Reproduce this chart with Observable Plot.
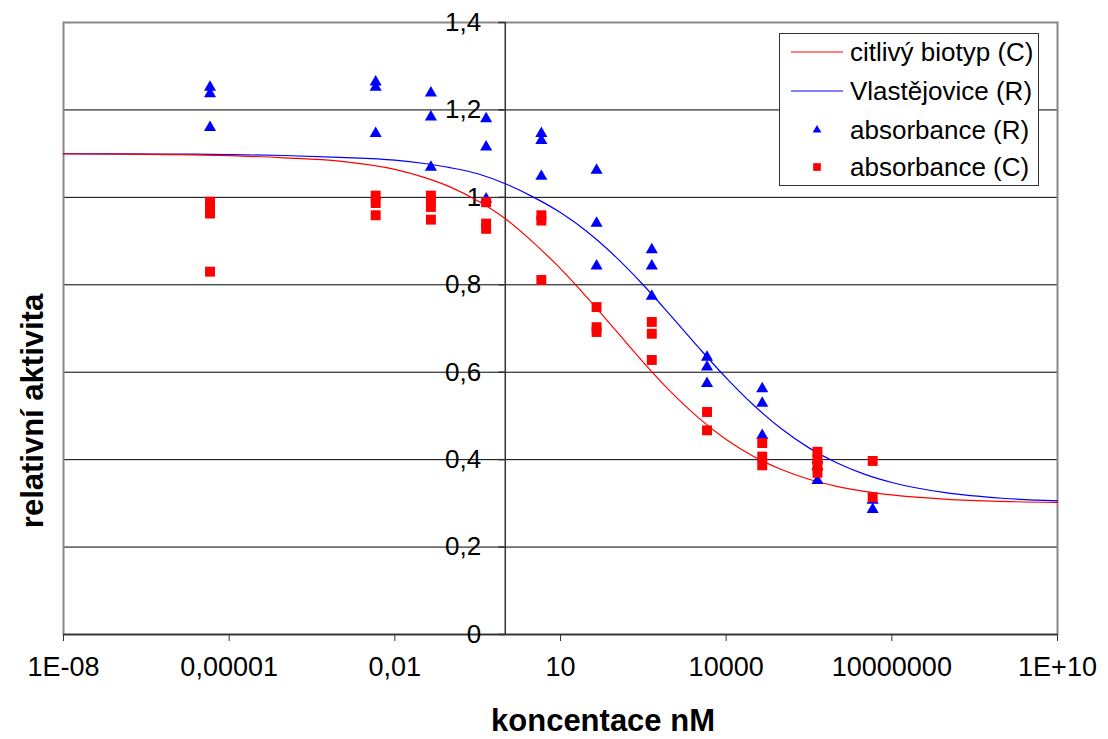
<!DOCTYPE html>
<html>
<head>
<meta charset="utf-8">
<script src="https://cdn.jsdelivr.net/npm/d3@7"></script>
<script src="https://cdn.jsdelivr.net/npm/@observablehq/plot@0.6"></script>
<style>
  html, body { margin: 0; padding: 0; background: white; }
  #wrap { position: relative; width: 1108px; height: 739px; font-family: "Liberation Sans", Arial, sans-serif; }
  #xtitle { position: absolute; left: 603px; top: 706px; transform: translateX(-50%); font-weight: bold; font-size: 31px; line-height: 30px; white-space: nowrap; }
  #legend { position: absolute; left: 779px; top: 33px; width: 258px; height: 151px; border: 1px solid #333; background: white; }
</style>
</head>
<body>
<div id="wrap"></div>
<script>
// ---- data ----
const xTicks = [1e-8, 1e-5, 1e-2, 10, 1e4, 1e7, 1e10];
const xTickLabels = ["1E-08", "0,00001", "0,01", "10", "10000", "10000000", "1E+10"];
const yTicks = [0, 0.2, 0.4, 0.6, 0.8, 1.0, 1.2, 1.4];
const yTickLabels = ["0", "0,2", "0,4", "0,6", "0,8", "1", "1,2", "1,4"];
const yAxisAt = [1];

// absorbance (R) – blue triangles
const concR = [
  4.5e-6, 4.5e-6, 4.5e-6,
  4.5e-3, 4.5e-3, 4.5e-3,
  4.5e-2, 4.5e-2, 4.5e-2,
  0.45, 0.45, 0.45,
  4.5, 4.5, 4.5,
  45, 45, 45,
  450, 450, 450,
  4500, 4500, 4500,
  45000, 45000, 45000,
  450000, 450000, 450000,
  4.5e6, 4.5e6
];
const absR = [
  1.252, 1.237, 1.160,
  1.264, 1.252, 1.146,
  1.239, 1.184, 1.069,
  1.180, 1.115, 0.996,
  1.146, 1.130, 1.048,
  1.062, 0.941, 0.843,
  0.880, 0.843, 0.774,
  0.634, 0.612, 0.574,
  0.562, 0.529, 0.455,
  0.400, 0.385, 0.352,
  0.307, 0.286
];

// absorbance (C) – red squares
const concC = [
  4.5e-6, 4.5e-6, 4.5e-6, 4.5e-6,
  4.5e-3, 4.5e-3, 4.5e-3,
  4.5e-2, 4.5e-2, 4.5e-2, 4.5e-2,
  0.45, 0.45, 0.45,
  4.5, 4.5, 4.5,
  45, 45, 45,
  450, 450, 450,
  4500, 4500,
  45000, 45000, 45000,
  450000, 450000, 450000, 450000,
  4.5e6, 4.5e6
];
const absC = [
  0.990, 0.978, 0.963, 0.830,
  1.004, 0.987, 0.959,
  1.004, 0.993, 0.978, 0.949,
  0.989, 0.940, 0.928,
  0.959, 0.947, 0.811,
  0.749, 0.703, 0.692,
  0.715, 0.688, 0.628,
  0.509, 0.467,
  0.438, 0.407, 0.387,
  0.418, 0.400, 0.385, 0.370,
  0.397, 0.314
];

// fitted curves
const curveConc = [1e-8, 1e-7, 1e-6, 1e-5, 1e-4, 1e-3, 1e-2, 3.16e-2, 0.1, 0.316, 1, 3.16, 10, 31.6, 100, 316, 1000, 3160, 1e4, 3.16e4, 1e5, 3.16e5, 1e6, 3.16e6, 1e7, 1e8, 1e9, 1e10];
const curveC = [1.0995, 1.0989, 1.0978, 1.0953, 1.0905, 1.083, 1.064, 1.047, 1.024, 0.992, 0.951, 0.8976, 0.837, 0.7683, 0.6956, 0.6227, 0.5549, 0.4956, 0.4463, 0.4073, 0.3774, 0.3552, 0.339, 0.3274, 0.3192, 0.3093, 0.3045, 0.3021];
const curveR = [1.0998, 1.0995, 1.099, 1.0979, 1.0958, 1.0915, 1.085, 1.078, 1.068, 1.054, 1.031, 1.0011, 0.9651, 0.9195, 0.8638, 0.7995, 0.729, 0.6567, 0.5871, 0.5243, 0.4706, 0.4269, 0.3928, 0.3669, 0.3478, 0.3239, 0.3117, 0.3057];

const seriesNames = ["citlivý biotyp (C)", "Vlastějovice (R)", "absorbance (R)", "absorbance (C)"];
const colorC = "#ff0000", colorR = "#0000ff";

// ---- chart ----
const tickLeft = { draw(ctx) { ctx.moveTo(-7, 0); ctx.lineTo(0, 0); } };
const idx = (arr) => arr.map((_, i) => i);

const chart = Plot.plot({
  width: 1108,
  height: 739,
  marginLeft: 63,
  marginRight: 51,
  marginTop: 22,
  marginBottom: 105,
  x: { type: "log", domain: [1e-8, 1e10] },
  y: { domain: [0, 1.4], axis: null },
  style: { fontFamily: "'Liberation Sans', Arial, sans-serif", fontSize: "26px", background: "white", color: "black" },
  marks: [
    Plot.ruleY(yTicks.filter(d => d > 0 && d < 1.4), { stroke: "#000", strokeWidth: 1 }),
    Plot.frame({ stroke: "#888", strokeWidth: 2 }),
    Plot.ruleY([0], { stroke: "#333", strokeWidth: 1.5 }),
    Plot.ruleX(yAxisAt, { stroke: "#333", strokeWidth: 1.5 }),
    Plot.axisX({ ticks: xTicks, tickFormat: d => xTickLabels[xTicks.indexOf(d)], tickSize: 7, tickPadding: 15, label: null, fontSize: 27, stroke: "#333" }),
    Plot.dot(yTicks, { x: () => yAxisAt[0], y: d => d, symbol: tickLeft, stroke: "#333", fill: "none", strokeWidth: 1.5 }),
    Plot.text(yTicks, { x: () => yAxisAt[0], y: d => d, text: (d, i) => yTickLabels[i], textAnchor: "end", dx: -24, fontSize: 26, fill: "#000" }),
    Plot.line(idx(curveConc), { x: i => curveConc[i], y: i => curveR[i], stroke: colorR, strokeWidth: 1.2, curve: "monotone-x" }),
    Plot.line(idx(curveConc), { x: i => curveConc[i], y: i => curveC[i], stroke: colorC, strokeWidth: 1.2, curve: "monotone-x" }),
    Plot.dot(idx(concR), { x: i => concR[i], y: i => absR[i], symbol: "triangle", r: 4.5, fill: colorR, stroke: "none" }),
    Plot.dot(idx(concC), { x: i => concC[i], y: i => absC[i], symbol: "square", r: 5.6, fill: colorC, stroke: "none" })
  ]
});

const wrap = document.getElementById("wrap");
wrap.appendChild(chart);

// y-axis title
d3.select(chart).append("text")
  .attr("transform", "translate(43,411) rotate(-90)")
  .attr("text-anchor", "middle")
  .style("font-weight", "bold")
  .style("font-size", "31px")
  .style("font-family", "'Liberation Sans', Arial, sans-serif")
  .attr("fill", "#000")
  .text("relativní aktivita");

// x-axis title
const xt = document.createElement("div");
xt.id = "xtitle";
xt.textContent = "koncentace nM";
wrap.appendChild(xt);

// legend
const leg = document.createElement("div");
leg.id = "legend";
wrap.appendChild(leg);
const ls = d3.select(leg).append("svg").attr("width", 258).attr("height", 151);
const rowsY = [18, 57, 96, 133];
const kinds = ["lineC", "lineR", "triR", "sqC"];
kinds.forEach((k, i) => {
  const y = rowsY[i];
  if (k === "lineC" || k === "lineR") {
    ls.append("line").attr("x1", 11).attr("x2", 63).attr("y1", y).attr("y2", y)
      .attr("stroke", k === "lineC" ? colorC : colorR).attr("stroke-width", 1.2);
  } else {
    const sym = k === "triR" ? d3.symbolTriangle : d3.symbolSquare;
    const size = k === "triR" ? 4.2 * 4.2 * Math.PI : 5.6 * 5.6 * Math.PI;
    ls.append("path").attr("d", d3.symbol(sym, size * 0.6)()).attr("transform", `translate(37,${y})`)
      .attr("fill", k === "triR" ? colorR : colorC);
  }
  ls.append("text").attr("x", 70).attr("y", y).attr("dy", "0.35em")
    .style("font-size", "26px").style("font-family", "'Liberation Sans', Arial, sans-serif")
    .attr("fill", "#000").text(seriesNames[i]);
});
</script>
</body>
</html>
